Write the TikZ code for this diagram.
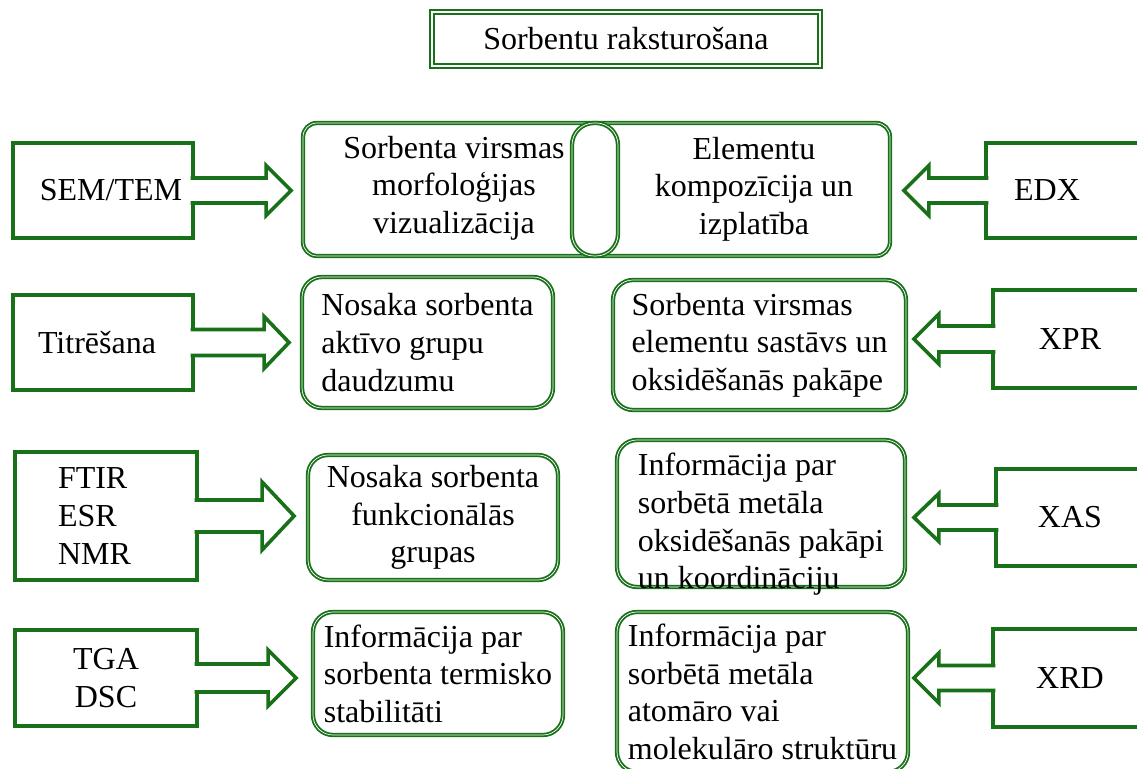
\documentclass[tikz,border=0pt]{standalone}
\usepackage{fontspec}
\setmainfont{Liberation Serif}
\usetikzlibrary{positioning,calc}
\definecolor{dgreen}{RGB}{24,112,24}

% fat outline arrow: from, tip, half shaft, half head, head length
\newcommand{\fatarrow}[5]{%
  \path[arrow line] let \p1=#1, \p2=#2, \n1={sign(\x2-\x1)} in
    ({\x1-(\n1)*1.2pt},{\y2+#3}) -- ({\x2-(\n1)*#5},{\y2+#3}) -- ({\x2-(\n1)*#5},{\y2+#4})
    -- (\x2,\y2) -- ({\x2-(\n1)*#5},{\y2-#4}) -- ({\x2-(\n1)*#5},{\y2-#3}) -- ({\x1-(\n1)*1.2pt},{\y2-#3});}

\begin{document}
\begin{tikzpicture}[x=0.5pt,y=-0.5pt,
    every node/.style={font=\fontsize{16}{18.8}\selectfont,inner sep=0pt},
    method/.style={draw=dgreen,line width=1.8pt,fill=white,outer sep=0pt,minimum width=90pt,minimum height=47.5pt},
    result/.style={draw=dgreen,double=white,double distance=0.35pt,line width=0.9pt,fill=white,rounded corners=10pt},
    arrow line/.style={draw=dgreen,line width=1.8pt,fill=white,line join=miter}
  ]
  \useasboundingbox (0,0) rectangle (1137,769);
  \clip (0,0) rectangle (1137,769);

  \node[draw=dgreen,double=white,double distance=0.9pt,line width=0.9pt,minimum width=194pt,minimum height=27pt] (title) at (626,39) {Sorbentu raksturošana};

  % row 1
  \node[method] (sem) at (103,190.5) {\hspace*{8pt}SEM/TEM};
  \node[result,minimum width=293.5pt,minimum height=66.5pt,rounded corners=7pt] (vizbox) at (596.5,189.5) {};
  \node[result,minimum width=23pt,minimum height=66.5pt,rounded corners=11pt] (pill) at (595,189.5) {};
  \node[align=center] (morf) at (454,188) {Sorbenta virsmas\\morfoloģijas\\vizualizācija};
  \node[align=center] (elem) at (754,189) {Elementu\\kompozīcija un\\izplatība};
  \node[method,minimum width=84pt] (edx) at (1070,190.5) {\hspace*{-23pt}EDX};

  % row 2
  \node[method] (tit) at (103,342.5) {\hspace*{-6pt}Titrēšana};
  \node[result,minimum width=125.5pt,minimum height=65.5pt,align=left] (aktivo) at (427.5,342.5) {Nosaka sorbenta\\aktīvo grupu\\daudzumu};
  \node[result,minimum width=146.5pt,minimum height=65pt,align=left] (virsmas) at (759.5,345) {Sorbenta virsmas\\elementu sastāvs un\\oksidēšanās pakāpe};
  \node[method,minimum width=77pt,minimum height=49pt] (xpr) at (1070,339) {XPR};

  % row 3
  \node[method,minimum width=91pt,minimum height=64pt,text width=48pt,align=left] (ftir) at (106,516) {FTIR\\ESR\\NMR};
  \node[result,minimum width=125pt,minimum height=62.5pt,align=center] (funk) at (433,517.5) {Nosaka sorbenta\\funkcionālās\\grupas};
  \node[result,minimum width=144pt,minimum height=73.5pt] (koord) at (761,513.5) {};
  \node[align=left] (koordtxt) at ($(koord.center)+(0,11)$) {Informācija par\\sorbētā metāla\\oksidēšanās pakāpi\\un koordināciju};
  \node[method,minimum width=74pt,minimum height=48.5pt] (xas) at (1070,517.5) {XAS};

  % row 4
  \node[method,minimum width=91pt,minimum height=48pt,align=center] (tga) at (106,678) {TGA\\DSC};
  \node[result,minimum width=125pt,minimum height=61.5pt,align=left] (termo) at (438,673.5) {Informācija par\\sorbenta termisko\\stabilitāti};
  \node[result,minimum width=145.5pt,minimum height=80pt,align=left] (struk) at (762.5,692) {Informācija par\\sorbētā metāla\\atomāro vai\\molekulāro struktūru};
  \node[method,minimum width=77pt,minimum height=49pt] (xrd) at (1070,678) {XRD};

  \fatarrow{(sem.east)}{($(vizbox.west |- sem.east)+(-5.5pt,0pt)$)}{6.25pt}{12.5pt}{12.5pt}
  \fatarrow{(edx.west)}{($(vizbox.east |- edx.west)+(6.5pt,0pt)$)}{6.25pt}{12.5pt}{12.5pt}
  \fatarrow{(tit.east)}{($(aktivo.west |- tit.east)+(-6pt,0pt)$)}{6.5pt}{13pt}{12.5pt}
  \fatarrow{(xpr.west)}{($(virsmas.east |- xpr.west)+(3.5pt,0pt)$)}{6.5pt}{12.5pt}{12.5pt}
  \fatarrow{(ftir.east)}{($(funk.west |- ftir.east)+(-6.5pt,0pt)$)}{8pt}{17pt}{16pt}
  \fatarrow{(xas.west)}{($(koord.east |- xas.west)+(4pt,0pt)$)}{6.25pt}{12pt}{12.5pt}
  \fatarrow{(tga.east)}{($(termo.west |- tga.east)+(-8pt,0pt)$)}{7pt}{14pt}{14pt}
  \fatarrow{(xrd.west)}{($(struk.east |- xrd.west)+(2.5pt,0pt)$)}{6.25pt}{12.5pt}{12.5pt}
\end{tikzpicture}
\end{document}
